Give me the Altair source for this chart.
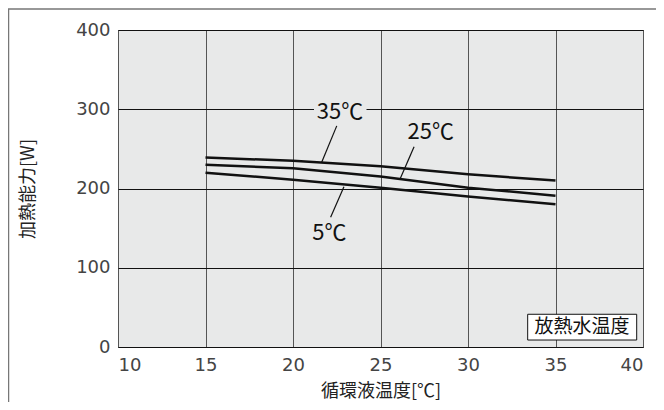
import altair as alt
import pandas as pd

# ---- data ----
x_vals = [15, 20, 25, 30, 35]
series_names = ["35℃", "25℃", "5℃"]
y_35 = [239, 235, 228, 218, 210]
y_25 = [230, 225.5, 215, 201, 191]
y_5 = [220, 211, 201, 190, 180]

label_x = [22.69, 27.87, 22.08]
label_y = [297, 271.7, 144.2]
leader_x1 = [22.5, 26.92, 22.15]
leader_y1 = [279, 252.7, 163.7]
leader_x2 = [21.64, 26.11, 22.91]
leader_y2 = [233, 211.6, 202.3]

legend_text = ["放熱水温度"]
x_ticks = [10, 15, 20, 25, 30, 35, 40]
y_ticks = [0, 100, 200, 300, 400]

FONT = "Noto Sans CJK JP"
NUMFONT = "DejaVu Sans"
BG = "#e8e9e9"

rows = []
for name, ys in zip(series_names, [y_35, y_25, y_5]):
    for x, y in zip(x_vals, ys):
        rows.append({"series": name, "x": x, "y": y})
df = pd.DataFrame(rows)

lab = pd.DataFrame({"t": series_names, "x": label_x, "y": label_y})
lead = pd.DataFrame({"x": leader_x1, "y": leader_y1, "x2": leader_x2, "y2": leader_y2})

xs = alt.Scale(domain=[10, 40], nice=False, zero=False)
ys = alt.Scale(domain=[0, 400], nice=False)

xax = alt.Axis(values=x_ticks, title="循環液温度[℃]", grid=True, gridColor="#555",
               gridWidth=1, ticks=False, domain=False, labelPadding=9,
               labelFontSize=18, labelColor="#444", labelFont=NUMFONT,
               titleFont=FONT, titleFontSize=18, titleFontWeight="normal",
               titleColor="#222", titlePadding=8)
yax = alt.Axis(values=y_ticks, title="加熱能力[W]", grid=True, gridColor="#111",
               gridWidth=1, ticks=False, domain=False, labelPadding=8,
               labelFontSize=18, labelColor="#444", labelFont=NUMFONT,
               titleFont=FONT, titleFontSize=18, titleFontWeight="normal",
               titleColor="#222", titlePadding=38)

base = alt.Chart(df)

lines = base.mark_line(color="#111", strokeWidth=2.5).encode(
    x=alt.X("x:Q", scale=xs, axis=xax),
    y=alt.Y("y:Q", scale=ys, axis=yax),
    detail="series:N",
)

# background patch behind the 35℃ label (hides grid line)
patch = alt.Chart(pd.DataFrame({"x": [21.2], "x2": [24.2], "y": [286], "y2": [312]})).mark_rect(
    fill=BG, stroke=None
).encode(x=alt.X("x:Q", scale=xs), x2="x2", y=alt.Y("y:Q", scale=ys), y2="y2")

leaders = alt.Chart(lead).mark_rule(color="#111", strokeWidth=1.2).encode(
    x=alt.X("x:Q", scale=xs), y=alt.Y("y:Q", scale=ys), x2="x2", y2="y2"
)

labels = alt.Chart(lab).mark_text(font=FONT, fontSize=22, color="#111").encode(
    x=alt.X("x:Q", scale=xs), y=alt.Y("y:Q", scale=ys), text="t:N"
)

box = alt.Chart(pd.DataFrame({"x": [33.41], "x2": [39.64], "y": [8.8], "y2": [41.3]})).mark_rect(
    fill="white", stroke="#111", strokeWidth=1
).encode(x=alt.X("x:Q", scale=xs), x2="x2", y=alt.Y("y:Q", scale=ys), y2="y2")

box_text = alt.Chart(pd.DataFrame({"t": legend_text, "x": [36.52], "y": [25]})).mark_text(
    font=FONT, fontSize=19, color="#111"
).encode(x=alt.X("x:Q", scale=xs), y=alt.Y("y:Q", scale=ys), text="t:N")

frame = alt.Chart(pd.DataFrame({"a": [0]})).mark_rect(
    fill=None, stroke="#777", strokeWidth=1.5
).encode(x=alt.value(-109.5), x2=alt.value(900), y=alt.value(-21), y2=alt.value(900))

chart = alt.layer(frame, lines, patch, leaders, labels, box, box_text).properties(
    width=525, height=317,
    autosize=alt.AutoSizeParams(type="none"),
    padding={"left": 110, "top": 22, "right": 13, "bottom": 55},
    background="white",
).configure_view(fill=BG, stroke="#222", strokeWidth=1)

chart.save("out.html", embed_options={"renderer": "svg", "actions": False})
